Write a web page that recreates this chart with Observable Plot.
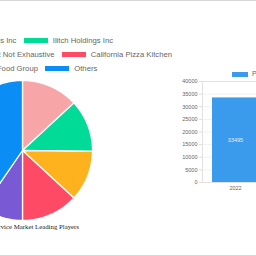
<!DOCTYPE html>
<html><head><meta charset="utf-8">
<script src="https://cdn.jsdelivr.net/npm/d3@7"></script>
<script src="https://cdn.jsdelivr.net/npm/@observablehq/plot@0.6"></script>
<style>
html,body{margin:0;padding:0;background:#fff;}
#root{position:relative;width:256px;height:256px;overflow:hidden;font-family:"Liberation Sans",Arial,sans-serif;}
.abs{position:absolute;white-space:nowrap;}
.row{position:absolute;display:flex;align-items:center;gap:7.3px;white-space:nowrap;font-size:7.7px;color:#666;height:8px;}
.item{display:flex;align-items:center;gap:5px;}
.sw{display:inline-block;width:24px;height:5.5px;}
</style></head><body><div id="root"></div>
<script>
const players = ["Yum! Brands Inc", "Ilitch Holdings Inc", "Sbarro LLC*List Not Exhaustive", "California Pizza Kitchen", "MTY Food Group", "Others"];
const shares = [13.1, 12.1, 11.7, 13.1, 9.6, 40.4];
const colors = ["#f8a5a8", "#00dc97", "#feb21e", "#fe4a65", "#7a5ad4", "#0a8ef6"];
const years = ["2022"];
const marketSize = [33495];
const yTicks = [0, 5000, 10000, 15000, 20000, 25000, 30000, 35000, 40000];
const seriesLabel = "Pizza Food Service Market Size";
const pieTitle = "Pizza Food Service Market Leading Players";

const root = document.getElementById("root");
function place(el, css){Object.assign(el.style, css); root.appendChild(el); return el;}

// borders
place(document.createElement("div"), {position:"absolute",left:"0",top:"0",width:"256px",height:"1px",background:"#d6d6d6"});
place(document.createElement("div"), {position:"absolute",left:"0",top:"255px",width:"256px",height:"1px",background:"#d6d6d6"});

// pie geometry
const arcs = d3.pie().sort(null).value(d => d)(shares);
const pts = [];
arcs.forEach((p, i) => {
  pts.push({name: players[i], x: 0, y: 0});
  const n = Math.max(2, Math.ceil((p.endAngle - p.startAngle) / 0.02));
  for (let k = 0; k <= n; k++) {
    const a = p.startAngle + (p.endAngle - p.startAngle) * k / n;
    pts.push({name: players[i], x: Math.sin(a), y: Math.cos(a)});
  }
  pts.push({name: players[i], x: 0, y: 0});
});
const pieSvg = Plot.plot({
  width: 140, height: 140, margin: 0,
  x: {domain: [-1, 1], axis: null},
  y: {domain: [-1, 1], axis: null},
  color: {domain: players, range: colors},
  marks: [Plot.line(pts, {x: "x", y: "y", z: "name", fill: "name", stroke: "#fff", strokeWidth: 1.3, strokeLinejoin: "round", curve: "linear"})]
});
place(pieSvg, {position: "absolute", left: "-48px", top: "80px", overflow: "visible"});

// pie legend rows (right-aligned at measured row ends)
const rowEnds = [113, 172, 97.3];
const rowTops = [40.7, 54.3, 68.7];
for (let r = 0; r < 3; r++) {
  const row = document.createElement("div");
  row.className = "row";
  for (let j = 0; j < 2; j++) {
    const i = r * 2 + j;
    const it = document.createElement("div"); it.className = "item";
    const sw = document.createElement("span"); sw.className = "sw"; sw.style.background = colors[i];
    const tx = document.createElement("span"); tx.textContent = players[i];
    it.appendChild(sw); it.appendChild(tx); row.appendChild(it);
  }
  place(row, {right: (256 - rowEnds[r]) + "px", top: (rowTops[r] - 4) + "px"});
}

// caption
const cap = document.createElement("div"); cap.className = "abs"; cap.textContent = pieTitle;
place(cap, {right: (256 - 79) + "px", top: "222.5px", fontFamily: "'Liberation Serif','Times New Roman',serif", fontSize: "6.8px", color: "#222"});

// bar chart
const barData = years.map((y, i) => ({year: y, value: marketSize[i]}));
const barSvg = Plot.plot({
  width: 117, height: 140, marginLeft: 52, marginRight: 0, marginTop: 21, marginBottom: 18,
  style: {color: "#666", fontFamily: "'Liberation Sans',Arial,sans-serif", overflow: "visible"},
  x: {domain: years, padding: 0.171, label: null},
  y: {domain: [0, 40000], label: null},
  marks: [
    Plot.gridY(yTicks, {stroke: "#000", strokeOpacity: 0.06}),
    Plot.frame({stroke: "#e2e2e2"}),
    Plot.barY(barData, {x: "year", y: "value", fill: "#3a9aeb"}),
    Plot.text(barData, {x: "year", y: d => d.value / 2, text: d => String(d.value), fill: "#e6f0ff", fontSize: 5.5}),
    Plot.axisY({ticks: yTicks, tickSize: 3, tickPadding: 2, fontSize: 5.5, stroke: "#ddd", fill: "#666", tickFormat: d => String(d)}),
    Plot.axisX({tickSize: 0, tickPadding: 4, fontSize: 5.5, fill: "#666"})
  ]
});
place(barSvg, {position: "absolute", left: "150px", top: "60px"});

// bar legend
const bsw = document.createElement("div");
place(bsw, {position: "absolute", left: "231.7px", top: "71.5px", width: "16.6px", height: "5px", background: "#3a9aeb"});
const btx = document.createElement("div"); btx.className = "abs"; btx.textContent = seriesLabel;
place(btx, {left: "252px", top: "70px", fontSize: "7px", color: "#666"});
</script></body></html>
